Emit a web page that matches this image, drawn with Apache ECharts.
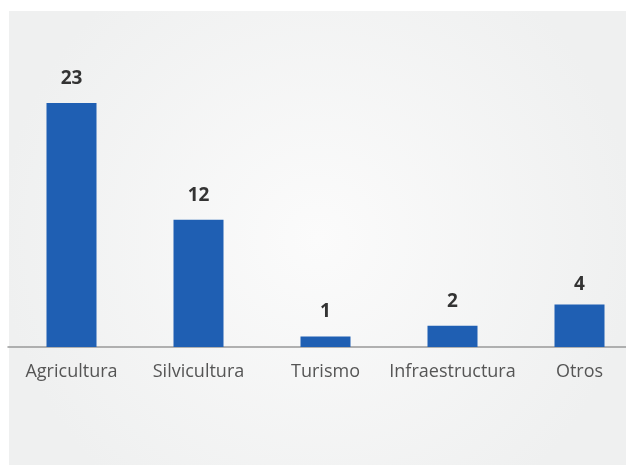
<!DOCTYPE html>
<html>
<head>
<meta charset="utf-8">
<script src="https://cdn.jsdelivr.net/npm/echarts@6/dist/echarts.min.js"></script>
<style>
  html, body { margin: 0; padding: 0; background: #ffffff; width: 626px; height: 465px; overflow: hidden; }
  /* canvas is wider than the page so the last band runs off the right edge */
  #chart { width: 643px; height: 465px; }
</style>
</head>
<body>
<div id="chart"></div>
<script>
// Sector categories and their counts
const categories = ['Agricultura', 'Silvicultura', 'Turismo', 'Infraestructura', 'Otros'];
const counts = [23, 12, 1, 2, 4];

const chart = echarts.init(document.getElementById('chart'), null, { renderer: 'canvas' });

// the last label sits a little closer to its bar
const barData = counts.map((v, i) =>
  i === counts.length - 1 ? { value: v, label: { distance: 10 } } : v
);

chart.setOption({
  animation: false,
  graphic: [{
    type: 'rect',
    left: 9, top: 11,
    shape: { width: 617, height: 454 },
    silent: true,
    z: -10,
    style: {
      fill: {
        type: 'radial', x: 0.5, y: 0.5, r: 0.7,
        colorStops: [
          { offset: 0, color: '#fbfbfb' },
          { offset: 1, color: '#eff0f0' }
        ]
      }
    }
  }],
  grid: { left: 8, right: 0, top: 50, height: 297, containLabel: false },
  xAxis: {
    type: 'category',
    data: categories,
    axisLine: { show: true, lineStyle: { color: '#999999', width: 1.5 } },
    axisTick: { show: false },
    axisLabel: {
      margin: 16,
      fontFamily: 'Open Sans',
      fontSize: 18,
      color: '#555555',
      interval: 0
    }
  },
  yAxis: {
    type: 'value',
    min: 0, max: 28,
    show: false,
    splitLine: { show: false }
  },
  series: [{
    type: 'bar',
    data: barData,
    barWidth: 50,
    itemStyle: { color: '#1f5fb3' },
    label: {
      show: true,
      position: 'top',
      distance: 15,
      fontFamily: 'Open Sans',
      fontWeight: 'bold',
      fontSize: 19,
      color: '#333333'
    }
  }]
});
</script>
</body>
</html>
